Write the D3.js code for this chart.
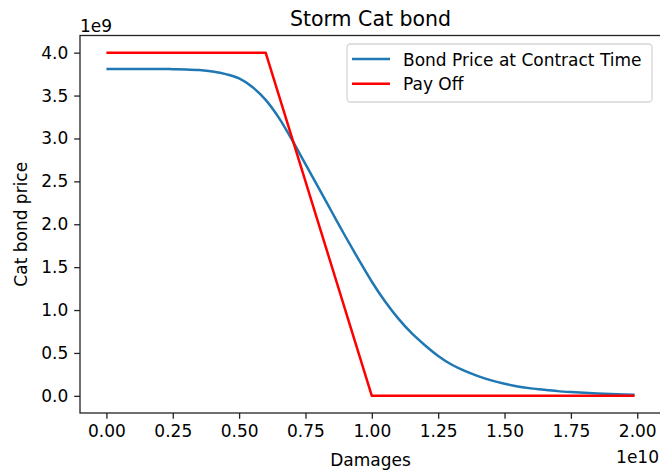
<!DOCTYPE html>
<html>
<head>
<meta charset="utf-8">
<script src="https://cdn.jsdelivr.net/npm/d3@7"></script>
<style>
  body { margin: 0; background: #fff; }
  text { font-family: "DejaVu Sans", sans-serif; fill: #000; }
</style>
</head>
<body>
<div id="chart"></div>
<script>
// damages (in $) and bond price values
var bondDamages = [0, 1e9, 2e9, 2.5e9, 3e9, 3.5e9, 4e9, 4.5e9, 5e9, 5.5e9, 6e9, 6.5e9, 7e9, 7.5e9,
                   8e9, 8.5e9, 9e9, 9.5e9, 1e10, 1.05e10, 1.1e10, 1.15e10, 1.2e10, 1.25e10,
                   1.3e10, 1.35e10, 1.4e10, 1.45e10, 1.5e10, 1.55e10, 1.6e10, 1.65e10, 1.7e10,
                   1.75e10, 1.8e10, 1.85e10, 1.9e10, 1.95e10, 1.99e10];
var bondPrice = [3.81e9, 3.81e9, 3.81e9, 3.808e9, 3.805e9, 3.797e9, 3.78e9, 3.75e9, 3.70e9,
                 3.60e9, 3.45e9, 3.24e9, 2.98e9, 2.70e9, 2.42e9, 2.14e9, 1.86e9, 1.59e9,
                 1.33e9, 1.10e9, 0.90e9, 0.73e9, 0.59e9, 0.465e9, 0.365e9, 0.29e9, 0.23e9,
                 0.18e9, 0.14e9, 0.11e9, 0.087e9, 0.07e9, 0.055e9, 0.044e9, 0.035e9,
                 0.027e9, 0.021e9, 0.016e9, 0.013e9];
var payDamages = [0, 6e9, 1e10, 1.99e10];
var payOff = [4e9, 4e9, 0, 0];

var xTicks = [0, 0.25e10, 0.5e10, 0.75e10, 1e10, 1.25e10, 1.5e10, 1.75e10, 2e10];
var yTicks = [0, 0.5e9, 1e9, 1.5e9, 2e9, 2.5e9, 3e9, 3.5e9, 4e9];
var seriesNames = ["Bond Price at Contract Time", "Pay Off"];
var seriesColors = ["#1f77b4", "#ff0000"];

var width = 660,
    height = 472;
var plot = { left: 80, right: 661, top: 35.5, bottom: 413 };

var svg = d3.select("#chart")
  .append("svg")
  .attr("width", width)
  .attr("height", height);

// matplotlib style 5% margins
var x = d3.scaleLinear().domain([-0.0995e10, 2.0895e10]).range([plot.left, plot.right]);
var y = d3.scaleLinear().domain([-0.2e9, 4.2e9]).range([plot.bottom, plot.top]);

var line = d3.line()
  .x(function(d) { return x(d[0]); })
  .y(function(d) { return y(d[1]); });

// blue curve
svg.append("path")
  .datum(d3.zip(bondDamages, bondPrice))
  .attr("fill", "none")
  .attr("stroke", seriesColors[0])
  .attr("stroke-width", 2.5)
  .attr("d", line.curve(d3.curveMonotoneX));

// payoff
svg.append("path")
  .datum(d3.zip(payDamages, payOff))
  .attr("fill", "none")
  .attr("stroke", seriesColors[1])
  .attr("stroke-width", 2.5)
  .attr("stroke-linejoin", "round")
  .attr("d", line.curve(d3.curveLinear));

// axes
var xAxis = svg.append("g")
  .attr("transform", "translate(0," + plot.bottom + ")")
  .call(d3.axisBottom(x).tickValues(xTicks).tickSize(5.8).tickPadding(6)
    .tickFormat(function(d) { return (d / 1e10).toFixed(2); }));

var yAxis = svg.append("g")
  .attr("transform", "translate(" + plot.left + ",0)")
  .call(d3.axisLeft(y).tickValues(yTicks).tickSize(5.8).tickPadding(6)
    .tickFormat(function(d) { return (d / 1e9).toFixed(1); }));

[xAxis, yAxis].forEach(function(a) {
  a.select(".domain").remove();
  a.selectAll(".tick line").attr("stroke", "#222").attr("stroke-width", 1.3);
  a.selectAll(".tick text")
    .style("font-family", "DejaVu Sans")
    .style("font-size", "17px")
    .attr("fill", "#000");
});

// spines
svg.append("rect")
  .attr("x", plot.left)
  .attr("y", plot.top)
  .attr("width", plot.right - plot.left)
  .attr("height", plot.bottom - plot.top)
  .attr("fill", "none")
  .attr("stroke", "#222")
  .attr("stroke-width", 1.3);

// offset labels
svg.append("text")
  .attr("x", plot.left)
  .attr("y", 32)
  .style("font-size", "17px")
  .text("1e9");

svg.append("text")
  .attr("x", 659)
  .attr("y", 463)
  .attr("text-anchor", "end")
  .style("font-size", "17px")
  .text("1e10");

// title and axis labels
svg.append("text")
  .attr("x", (plot.left + plot.right) / 2)
  .attr("y", 26)
  .attr("text-anchor", "middle")
  .style("font-size", "20.5px")
  .text("Storm Cat bond");

svg.append("text")
  .attr("x", (plot.left + plot.right) / 2)
  .attr("y", 466)
  .attr("text-anchor", "middle")
  .style("font-size", "17px")
  .text("Damages");

svg.append("text")
  .attr("transform", "translate(27," + (plot.top + plot.bottom) / 2 + ") rotate(-90)")
  .attr("text-anchor", "middle")
  .style("font-size", "17px")
  .text("Cat bond price");

// legend
var legend = svg.append("g").attr("transform", "translate(347,44)");

legend.append("rect")
  .attr("width", 305)
  .attr("height", 58)
  .attr("rx", 3.5)
  .attr("fill", "#fff")
  .attr("fill-opacity", 0.8)
  .attr("stroke", "#d6d6d6")
  .attr("stroke-width", 1.3);

seriesNames.forEach(function(name, i) {
  var row = legend.append("g").attr("transform", "translate(0," + (15 + i * 24.8) + ")");
  row.append("line")
    .attr("x1", 5).attr("x2", 43)
    .attr("stroke", seriesColors[i])
    .attr("stroke-width", 2.5);
  row.append("text")
    .attr("x", 56)
    .attr("y", 6.5)
    .style("font-size", "17px")
    .text(name);
});
</script>
</body>
</html>
